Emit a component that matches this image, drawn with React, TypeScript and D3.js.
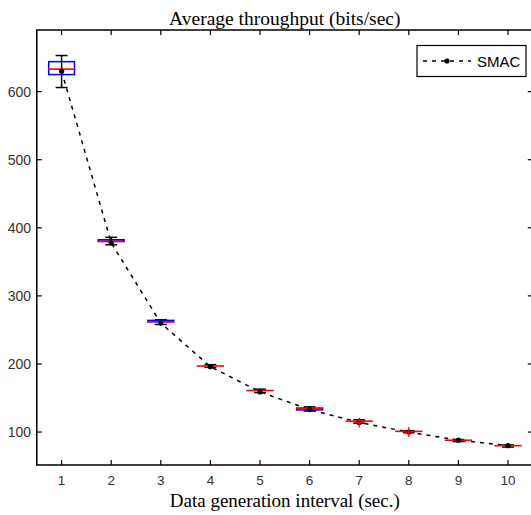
import React from 'react';
import * as d3 from 'd3';

// data generation interval (sec.)
const intervals = [1, 2, 3, 4, 5, 6, 7, 8, 9, 10];
// box statistics (bits/sec)
const medians = [633, 380, 262, 197, 161, 135, 116, 101, 88, 80];
const q1s = [625, 380, 262, 197, 161, 132.5, 116, 101, 88, 80];
const q3s = [644, 382.5, 264, 197, 161, 135, 116, 101, 88, 80];
const whiskLo = [606, 375, 258, 195, 158, 131, 113, 99, 86, 78];
const whiskHi = [653, 386, 265, 199, 163, 137, 118, 102, 89, 81];
// SMAC mean curve
const means = [630, 378, 260, 196, 159, 133, 114, 100, 88, 80];
// red + outlier marks
const outlierX = [7, 8];
const outlierY = [114, 100];

const yTicks = [100, 200, 300, 400, 500, 600];
const title = 'Average throughput (bits/sec)';
const xTitle = 'Data generation interval (sec.)';
const legendLabel = 'SMAC';

const W = 531;
const H = 515;
const left = 36.8;
const right = 532.8;
const top = 30;
const bottom = 465;

export default function App() {
  const x = d3.scaleLinear().domain([0.5, 10.5]).range([left, right]);
  const y = d3.scaleLinear().domain([51.6, 690.5]).range([bottom, top]);

  const halfBox = x(0.26) - x(0);
  const halfCap = x(0.12) - x(0);

  const meanLine = d3
    .line<number>()
    .x((d, i) => x(intervals[i]))
    .y((d) => y(d));

  const tickLen = 5;
  const sans = "'Liberation Sans', Arial, sans-serif";
  const serif = "'Liberation Serif', 'Times New Roman', serif";

  return (
    <svg
      width={W}
      height={H}
      style={{ position: 'absolute', left: 0, top: 0, background: '#fff' }}
    >
      {/* title */}
      <text x={(left + right) / 2} y={25} textAnchor="middle" fontFamily={serif} fontSize={19.5} fill="#000">
        {title}
      </text>

      {/* ticks, all four sides, inward */}
      {intervals.map((v) => (
        <g key={'xt' + v}>
          <line x1={x(v)} x2={x(v)} y1={bottom} y2={bottom - tickLen} stroke="#000" strokeWidth={1.2} />
          <line x1={x(v)} x2={x(v)} y1={top} y2={top + tickLen} stroke="#000" strokeWidth={1.2} />
          <text x={x(v)} y={485} textAnchor="middle" fontFamily={sans} fontSize={13.5} fill="#333">
            {v}
          </text>
        </g>
      ))}
      {yTicks.map((v) => (
        <g key={'yt' + v}>
          <line x1={left} x2={left + tickLen} y1={y(v)} y2={y(v)} stroke="#000" strokeWidth={1.2} />
          <line x1={right} x2={right - tickLen} y1={y(v)} y2={y(v)} stroke="#000" strokeWidth={1.2} />
          <text x={31} y={y(v) + 5} textAnchor="end" fontFamily={sans} fontSize={14} fill="#333">
            {v}
          </text>
        </g>
      ))}

      {/* mean curve */}
      <path d={meanLine(means) || ''} fill="none" stroke="#000" strokeWidth={1.5} strokeDasharray="4,5" />

      {/* boxes */}
      {intervals.map((v, i) => {
        const cx = x(v);
        return (
          <g key={'b' + v}>
            <line x1={cx} x2={cx} y1={y(whiskHi[i])} y2={y(whiskLo[i])} stroke="#000" strokeWidth={1.5} />
            <line x1={cx - halfCap} x2={cx + halfCap} y1={y(whiskHi[i])} y2={y(whiskHi[i])} stroke="#000" strokeWidth={1.5} />
            <line x1={cx - halfCap} x2={cx + halfCap} y1={y(whiskLo[i])} y2={y(whiskLo[i])} stroke="#000" strokeWidth={1.5} />
            <rect
              x={cx - halfBox}
              y={y(q3s[i])}
              width={halfBox * 2}
              height={y(q1s[i]) - y(q3s[i])}
              fill="none"
              stroke="#0000ff"
              strokeWidth={1.5}
            />
            <line x1={cx - halfBox - 0.8} x2={cx + halfBox + 0.8} y1={y(medians[i])} y2={y(medians[i])} stroke="#ff0000" strokeWidth={1.6} />
            <circle cx={cx} cy={y(means[i])} r={2.6} fill="#000" />
          </g>
        );
      })}

      {/* outliers */}
      {outlierX.map((v, i) => (
        <g key={'o' + v} stroke="#ff0000" strokeWidth={1.3}>
          <line x1={x(v)} x2={x(v)} y1={y(outlierY[i]) - 5} y2={y(outlierY[i]) + 5} />
          <line x1={x(v) - 5} x2={x(v) + 5} y1={y(outlierY[i])} y2={y(outlierY[i])} />
        </g>
      ))}

      {/* frame */}
      <rect x={left} y={top} width={right - left} height={bottom - top} fill="none" stroke="#000" strokeWidth={1.5} />

      {/* legend */}
      <g>
        <rect x={417} y={45.5} width={109} height={31} fill="#fff" stroke="#000" strokeWidth={1.2} />
        <line x1={423} x2={471} y1={61} y2={61} stroke="#000" strokeWidth={1.5} strokeDasharray="4,5" />
        <circle cx={447} cy={61} r={2.6} fill="#000" />
        <text x={477} y={66.5} fontFamily={sans} fontSize={15} fill="#000">
          {legendLabel}
        </text>
      </g>

      {/* x title */}
      <text x={(left + right) / 2} y={507} textAnchor="middle" fontFamily={serif} fontSize={19} fill="#000">
        {xTitle}
      </text>
    </svg>
  );
}
